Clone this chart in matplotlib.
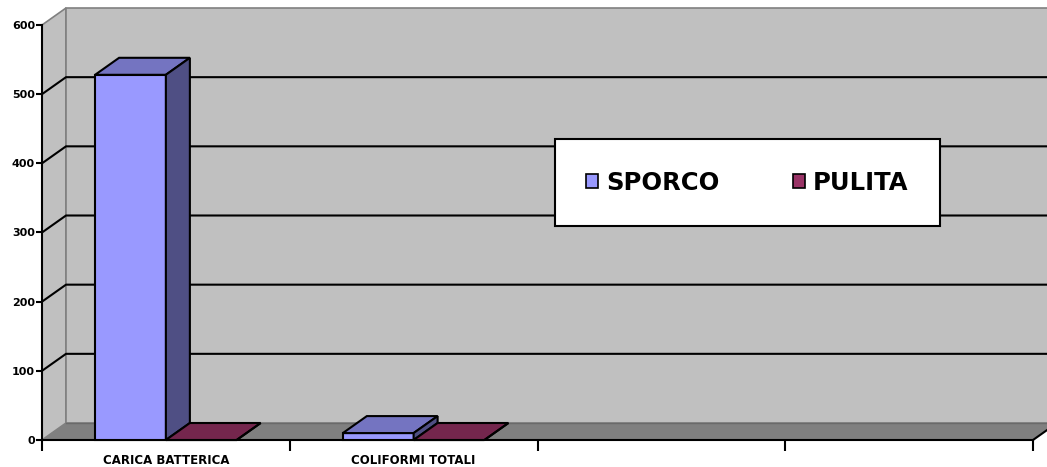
import matplotlib.pyplot as plt
from matplotlib.patches import Polygon, Patch

# data
categories = ['CARICA BATTERICA', 'COLIFORMI TOTALI', '', '']
series_names = ['SPORCO', 'PULITA']
sporco = [528, 10]
pulita = [0, 0]
y_ticks = [0, 100, 200, 300, 400, 500, 600]

colors = ['#9999FF', '#993366']
WALL = '#C0C0C0'
FLOOR = '#808080'
EDGE = '#808080'

W, H = 1047, 467
fig = plt.figure(figsize=(W / 100, H / 100), dpi=100)
# front plane of the pseudo 3d box, in pixels
x0, x1, yb, yt = 42, 1033, 440, 25
ax = fig.add_axes([x0 / W, (H - yb) / H, (x1 - x0) / W, (yb - yt) / H])
ncat = len(categories)
ax.set_xlim(0, ncat)
ax.set_ylim(0, 600)
ax.patch.set_visible(False)

# depth offset (24px right, 17px up) expressed in data units
DX = 24 / ((x1 - x0) / ncat)
DY = 17 / ((yb - yt) / 600)
ymax = y_ticks[-1]


def poly(pts, fc, ec='none', lw=0, z=1):
    ax.add_patch(Polygon(pts, closed=True, facecolor=fc, edgecolor=ec,
                         linewidth=lw, zorder=z, clip_on=False,
                         joinstyle='miter'))


def shade(c, f):
    r, g, b = [int(c[i:i + 2], 16) for i in (1, 3, 5)]
    return '#%02x%02x%02x' % (int(r * f), int(g * f), int(b * f))


# walls
poly([(0, 0), (0, ymax), (DX, ymax + DY), (DX, DY)], WALL, EDGE, 1.2, 0.5)
poly([(DX, DY), (DX, ymax + DY), (ncat + DX, ymax + DY), (ncat + DX, DY)],
     WALL, EDGE, 1.2, 0.5)

# gridlines on side + back wall
for v in y_ticks[1:-1]:
    ax.plot([0, DX, ncat + DX], [v, v + DY, v + DY], color='black',
            lw=1.5, zorder=1, clip_on=False)

# floor
poly([(0, 0), (ncat, 0), (ncat + DX, DY), (DX, DY)], FLOOR, z=1.2)
ax.plot([DX, ncat + DX], [DY, DY], color='#6a6a6a', lw=1, zorder=1.3,
        clip_on=False)
ax.plot([ncat, ncat + DX], [0, DY], color='black', lw=1.5, zorder=1.3,
        clip_on=False)

# bars
bw = 1 / (len(series_names) + 1.5)
gap = (1 - len(series_names) * bw) / 2
for i, vals in enumerate([sporco, pulita]):
    c = colors[i]
    for j, v in enumerate(vals):
        l = j + gap + i * bw
        r = l + bw
        kw = dict(ec='black', lw=1.5, z=3)
        poly([(l, 0), (r, 0), (r, v), (l, v)], c, **kw)
        poly([(l, v), (r, v), (r + DX, v + DY), (l + DX, v + DY)],
             shade(c, 0.76), **kw)
        poly([(r, 0), (r + DX, DY), (r + DX, v + DY), (r, v)],
             shade(c, 0.52), **kw)

# axes, ticks, labels
for s in ['top', 'right']:
    ax.spines[s].set_visible(False)
for s in ['left', 'bottom']:
    ax.spines[s].set_linewidth(1.5)
    ax.spines[s].set_zorder(2.5)
ax.set_yticks(y_ticks)
ax.set_yticklabels([str(t) for t in y_ticks], fontsize=8, fontweight='bold')
ax.tick_params(axis='y', direction='out', length=4, width=1.5, pad=1)
ax.set_xticks(range(ncat + 1))
ax.set_xticklabels([])
ax.tick_params(axis='x', which='major', direction='out', length=8, width=1.5)
ax.set_xticks([k + 0.5 for k in range(ncat)], minor=True)
ax.set_xticklabels(categories, minor=True, fontsize=8.5, fontweight='bold')
ax.tick_params(axis='x', which='minor', length=0, pad=10)

handles = [Patch(facecolor=c, edgecolor='black', linewidth=1.2) for c in colors]
leg = fig.legend(handles, series_names, loc='center', ncol=2,
                 bbox_to_anchor=(747.5 / W, (H - 182.5) / H),
                 prop={'size': 17.5, 'weight': 'bold'}, frameon=True,
                 fancybox=False, shadow=False, edgecolor='black',
                 handlelength=0.48, handleheight=0.48, handletextpad=0.35,
                 columnspacing=3.0, borderpad=1.3)
leg.get_frame().set_linewidth(1.5)
leg.get_frame().set_facecolor('white')
leg.get_frame().set_alpha(None)

fig.savefig('out.png', dpi=100, facecolor='white')
